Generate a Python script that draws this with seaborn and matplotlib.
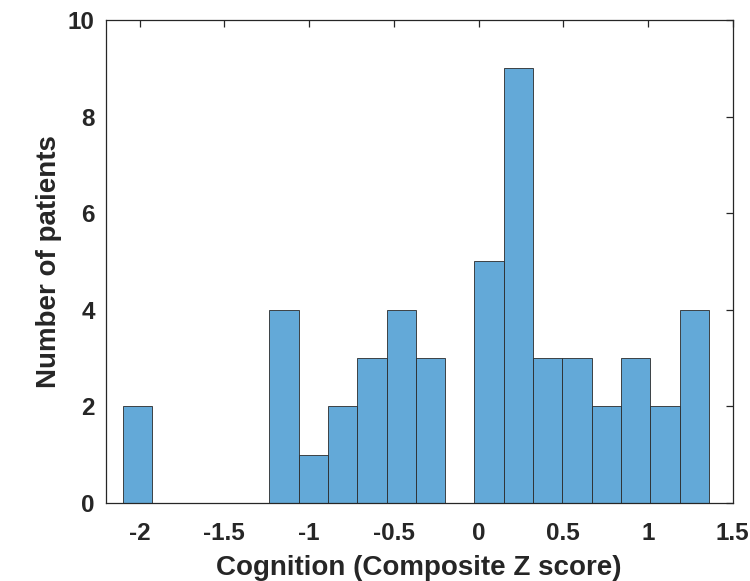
import numpy as np
import pandas as pd
import seaborn as sns
import matplotlib.pyplot as plt

# Histogram: 20 bins starting at -2.1
bin_start = -2.1
bin_width = 0.173
counts = [2, 0, 0, 0, 0, 4, 1, 2, 3, 4, 3, 0, 5, 9, 3, 3, 2, 3, 2, 4]

x_ticks = [-2, -1.5, -1, -0.5, 0, 0.5, 1, 1.5]
x_tick_labels = ["-2", "-1.5", "-1", "-0.5", "0", "0.5", "1", "1.5"]
y_ticks = [0, 2, 4, 6, 8, 10]

sns.set_style("white")
plt.rcParams['font.family'] = ['Liberation Sans', 'DejaVu Sans']
plt.rcParams['font.weight'] = 'bold'

n_bins = len(counts)
centers = [bin_start + bin_width * (i + 0.5) for i in range(n_bins)]
df = pd.DataFrame({"z": centers, "n": counts})

fig = plt.figure(figsize=(7.5, 5.81), dpi=100)
ax = fig.add_axes([0.141, 0.1343, 0.836, 0.8313])

sns.histplot(data=df, x="z", weights="n", bins=n_bins,
             binrange=(bin_start, bin_start + bin_width * n_bins),
             color="#63a9d8", alpha=1.0, edgecolor="#2a2a2a", linewidth=0.6,
             ax=ax)

ax.set_xlim(-2.2, 1.5)
ax.set_ylim(0, 10)
ax.set_xticks(x_ticks)
ax.set_xticklabels(x_tick_labels)
ax.set_yticks(y_ticks)
ax.tick_params(direction="in", length=5, width=0.9, color="#262626",
               labelsize=17.5, labelcolor="#262626", top=True, right=True)
ax.tick_params(axis="x", pad=14)
ax.tick_params(axis="y", pad=8)
for lbl in ax.get_xticklabels() + ax.get_yticklabels():
    lbl.set_fontweight("bold")
for s in ax.spines.values():
    s.set_visible(True)
    s.set_color("#262626")
    s.set_linewidth(0.9)

ax.set_xlabel("Cognition (Composite Z score)", fontsize=20, fontweight="bold",
              color="#262626", labelpad=7)
ax.set_ylabel("Number of patients", fontsize=20, fontweight="bold",
              color="#262626", labelpad=4)

fig.savefig("out.png", dpi=100)
